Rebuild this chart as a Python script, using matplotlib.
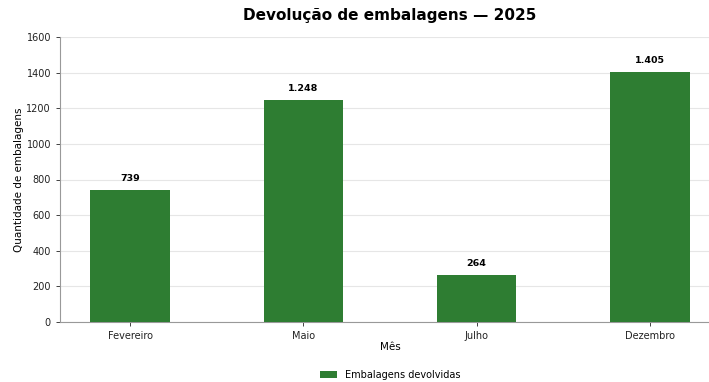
import numpy as np
import matplotlib
matplotlib.use('Agg')
import matplotlib.pyplot as plt

meses = ['Fevereiro', 'Maio', 'Julho', 'Dezembro']
devolvidas = [739, 1248, 264, 1405]
rotulos = ['739', '1.248', '264', '1.405']
yticks = [0, 200, 400, 600, 800, 1000, 1200, 1400, 1600]

verde = '#2e7d32'

fig = plt.figure(figsize=(7.09, 3.82), dpi=100)
# axes run slightly past the right edge, as in the cropped original
ax = fig.add_axes([60 / 709, 1 - 322 / 382, 660 / 709, 285 / 382])

x = np.arange(len(meses))
bars = ax.bar(x, devolvidas, width=0.46, color=verde, label='Embalagens devolvidas', zorder=3)

for b, txt in zip(bars, rotulos):
    ax.annotate(txt, (b.get_x() + b.get_width() / 2, b.get_height()),
                xytext=(0, 5), textcoords='offset points',
                ha='center', va='bottom', fontsize=6.8, fontweight='bold')

ax.set_xlim(-0.405, 3.405)
ax.set_ylim(0, 1600)
ax.set_xticks(x)
ax.set_xticklabels(meses, fontsize=7)
ax.set_yticks(yticks)
ax.tick_params(axis='y', labelsize=7, colors='#222222', length=3, width=0.6)
ax.tick_params(axis='x', length=3, width=0.6, colors='#222222')
ax.yaxis.grid(True, color='#e6e6e6', lw=0.8, zorder=0)
ax.set_axisbelow(True)

for s in ['top', 'right']:
    ax.spines[s].set_visible(False)
for s in ['left', 'bottom']:
    ax.spines[s].set_color('#999999')
    ax.spines[s].set_linewidth(0.8)

ax.set_xlabel('Mês', fontsize=7.5, labelpad=1)
ax.set_ylabel('Quantidade de embalagens', fontsize=7.5, labelpad=2)
ax.set_title('Devolução de embalagens — 2025', fontsize=11, fontweight='bold', pad=12)

fig.legend(loc='lower center', bbox_to_anchor=(390 / 709, -0.018), frameon=False, fontsize=7,
           handlelength=1.8, handleheight=0.7)

fig.savefig('out.png', dpi=100)
